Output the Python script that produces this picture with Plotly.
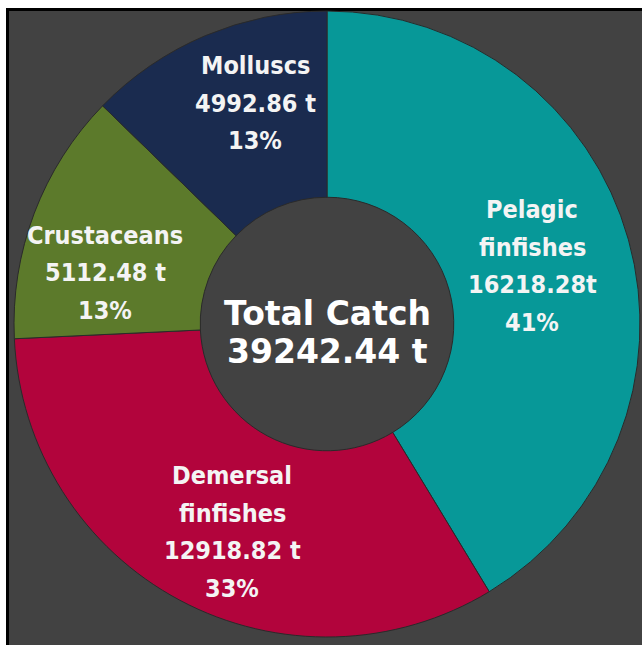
import plotly.graph_objects as go

W, H = 642, 645

categories = ["Pelagic finfishes", "Demersal finfishes", "Crustaceans", "Molluscs"]
values = [16218.28, 12918.82, 5112.48, 4992.86]
percent_labels = ["41%", "33%", "13%", "13%"]
value_labels = ["16218.28t", "12918.82 t", "5112.48 t", "4992.86 t"]
name_lines = [["Pelagic", "finfishes"], ["Demersal", "finfishes"], ["Crustaceans"], ["Molluscs"]]
total_title = "Total Catch"
total_label = "39242.44 t"

colors = ["#079898", "#b2043c", "#5c7a2b", "#1a2b4f"]
bg = "#424242"

# label block centres (pixels from top-left)
label_pos = [(532, 266), (232, 532), (105, 273), (255, 103)]
line_gap = 37.5


def px(x):
    return x / W


def py(y):
    return 1 - y / H


fig = go.Figure()
fig.add_trace(go.Pie(
    labels=categories,
    values=values,
    sort=False,
    direction="clockwise",
    rotation=0,
    hole=0.405,
    textinfo="none",
    hoverinfo="label+value+percent",
    marker=dict(colors=colors, line=dict(color="#2a2a2a", width=1)),
    domain=dict(x=[px(14), px(640)], y=[py(637), py(11)]),
    showlegend=False,
))

annotations = []
for i, cat in enumerate(categories):
    lines = name_lines[i] + [value_labels[i], percent_labels[i]]
    cx, cy = label_pos[i]
    n = len(lines)
    for k, ln in enumerate(lines):
        y = cy + (k - (n - 1) / 2) * line_gap
        annotations.append(dict(
            x=px(cx), y=py(y), xref="paper", yref="paper",
            text=ln, showarrow=False, xanchor="center", yanchor="middle",
            font=dict(family="DejaVu Sans Condensed, sans-serif",
                      size=25, color="#f4f4f4", weight="bold"),
        ))

for k, ln in enumerate([total_title, total_label]):
    annotations.append(dict(
        x=px(328), y=py(313 + k * 38), xref="paper", yref="paper",
        text=ln, showarrow=False, xanchor="center", yanchor="middle",
        font=dict(family="DejaVu Sans, sans-serif", size=33, color="#ffffff", weight="bold"),
    ))

fig.update_layout(
    width=W, height=H,
    margin=dict(l=0, r=0, t=0, b=0),
    paper_bgcolor="#ffffff",
    plot_bgcolor="#ffffff",
    annotations=annotations,
    shapes=[dict(
        type="rect", xref="paper", yref="paper", layer="below",
        x0=px(7.5), x1=px(680), y0=py(690), y1=py(9.5),
        fillcolor=bg, line=dict(color="#000000", width=3),
    )],
)

fig.write_html(
    "out.html",
    config={"displayModeBar": False},
    post_script="document.body.style.margin='0';document.body.style.overflow='hidden';",
)
